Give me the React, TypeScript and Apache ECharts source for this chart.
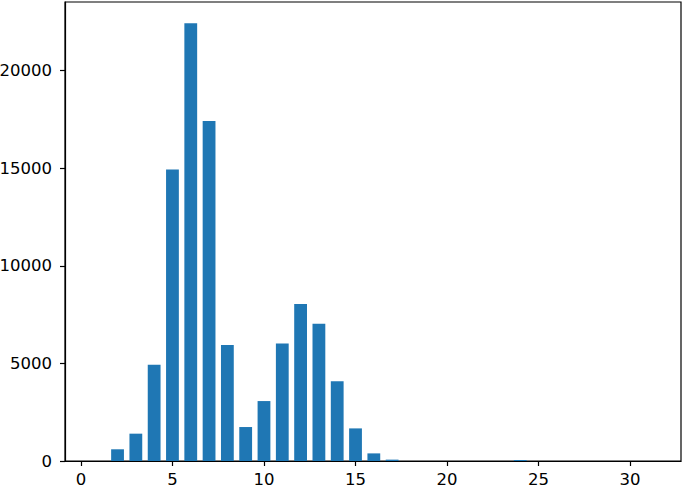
import React, { useEffect, useRef } from "react";
import * as echarts from "echarts";

const binCenters = [1, 2, 3, 4, 5, 6, 7, 8, 9, 10, 11, 12, 13, 14, 15, 16, 17, 18, 19, 20, 21, 22, 23, 24, 25, 26, 27, 28, 29, 30, 31];
const counts = [0, 600, 1400, 4930, 14930, 22420, 17420, 5940, 1740, 3070, 6020, 8040, 7030, 4090, 1670, 390, 70, 0, 0, 0, 0, 0, 0, 50, 0, 0, 0, 0, 0, 0, 0];
const xTicks = [0, 5, 10, 15, 20, 25, 30];
const yTicks = [0, 5000, 10000, 15000, 20000];

export default function App() {
  const ref = useRef<HTMLDivElement>(null);
  useEffect(() => {
    if (!ref.current) return;
    const chart = echarts.init(ref.current, null, { renderer: "svg" });
    const font = "'DejaVu Sans'";
    chart.setOption({
      animation: false,
      grid: {
        left: 65,
        top: 2,
        width: 616,
        height: 459,
        show: true,
        borderColor: "#000",
        borderWidth: 1.2,
        backgroundColor: "#fff",
        containLabel: false,
        outerBoundsMode: "none",
      },
      xAxis: {
        type: "value",
        min: -0.87,
        max: 32.78,
        splitLine: { show: false },
        axisLine: { show: true, onZero: false, lineStyle: { color: "#000", width: 1.2 } },
        axisTick: { show: true, length: 5, customValues: xTicks, lineStyle: { color: "#000", width: 1.2 } },
        axisLabel: {
          customValues: xTicks,
          margin: 10,
          color: "#000",
          fontFamily: font,
          fontSize: 16.5,
          lineHeight: 16,
          formatter: (v: number) => String(v),
        },
      },
      yAxis: {
        type: "value",
        min: 0,
        max: 23510,
        splitLine: { show: false },
        axisLine: { show: true, onZero: false, lineStyle: { color: "#000", width: 1.2 } },
        axisTick: { show: true, length: 5, customValues: yTicks, lineStyle: { color: "#000", width: 1.2 } },
        axisLabel: {
          customValues: yTicks,
          margin: 13,
          color: "#000",
          fontFamily: font,
          fontSize: 16.5,
          formatter: (v: number) => String(v),
        },
      },
      series: [
        {
          type: "bar",
          data: binCenters.map((x, i) => [x, counts[i]]),
          barWidth: 12.8,
          itemStyle: { color: "#1f77b4" },
        },
      ],
    });
    return () => chart.dispose();
  }, []);
  return (
    <div
      ref={ref}
      style={{ position: "fixed", left: 0, top: 0, width: 685, height: 487, background: "#fff" }}
    />
  );
}
